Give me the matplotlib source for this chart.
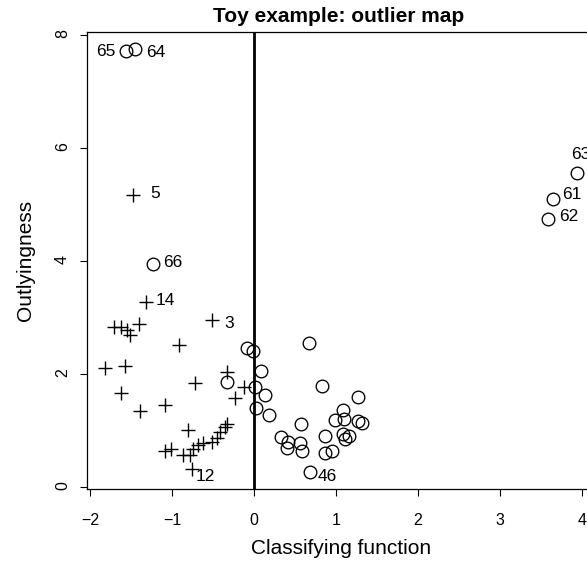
import matplotlib.pyplot as plt

plt.rcParams['font.family'] = ['Liberation Sans', 'DejaVu Sans']

# group 1 (plus signs): classifying function, outlyingness, label
plus_x = [-1.472, -1.317, -0.516, -1.707, -1.622, -1.543, -1.518, -1.402,
          -0.915, -1.817, -1.573, -0.333, -1.622, -0.720, -1.085, -1.390,
          -0.120, -0.230, -0.800, -0.333, -0.354, -1.085, -1.016, -0.862,
          -0.780, -0.740, -0.679, -0.618, -0.516, -0.455, -0.415, -0.760]
plus_y = [5.17, 3.28, 2.96, 2.83, 2.83, 2.78, 2.69, 2.89,
          2.51, 2.10, 2.14, 2.04, 1.67, 1.835, 1.45, 1.35,
          1.775, 1.58, 1.00, 1.12, 1.06, 0.63, 0.67, 0.56,
          0.56, 0.67, 0.74, 0.78, 0.80, 0.87, 0.97, 0.32]
plus_lab = ['5', '14', '3'] + [''] * 28 + ['12']

# group 2 (circles)
circ_x = [-1.565, -1.451, -1.228, 3.935, 3.650, 3.590, 0.683,
          -0.082, -0.009, 0.671, 0.085, 0.826, 0.018, 0.134, 1.272,
          0.030, 0.183, 1.089, 0.988, 1.101, 1.272, 1.317, 0.573,
          0.866, 1.082, 1.159, 1.110, 0.329, 0.418, 0.561, 0.402,
          0.589, 0.866, 0.957, -0.335]
circ_y = [7.72, 7.75, 3.94, 5.55, 5.09, 4.74, 0.27,
          2.455, 2.41, 2.54, 2.05, 1.79, 1.77, 1.63, 1.59,
          1.39, 1.27, 1.36, 1.18, 1.20, 1.16, 1.13, 1.12,
          0.90, 0.94, 0.90, 0.85, 0.89, 0.80, 0.77, 0.69,
          0.64, 0.60, 0.64, 1.85]
circ_lab = ['65', '64', '66', '63', '61', '62', '46'] + [''] * 28

x_ticks = [-2, -1, 0, 1, 2, 3, 4]
y_ticks = [0, 2, 4, 6, 8]

# label offsets in points (where the number sits next to its point)
offs = {'65': (-14, -0.9), '64': (15, -2.2), '5': (15.8, 0.7), '66': (14, 1.4),
        '14': (13.7, 0.7), '3': (12.8, -2.7), '12': (10.1, -5.4), '46': (12.7, -3.1),
        '61': (13.2, 3.6), '62': (14.4, 1.9), '63': (3, 13.7)}

W, H = 587, 562
fig = plt.figure(figsize=(W / 100, H / 100), dpi=100)
ax = fig.add_axes([86.7 / W, 1 - 489 / H, 508.4 / W, 457 / H])
ax.set_xlim(-2.04, 4.16)
ax.set_ylim(-0.035, 8.05)

ax.axvline(0, color='black', lw=2)
ax.plot(plus_x, plus_y, '+', color='black', ms=9.4, mew=1.0, clip_on=False)
ax.plot(circ_x, circ_y, 'o', mfc='none', mec='black', ms=9.1, mew=0.95, clip_on=False)

for xs, ys, labs in [(plus_x, plus_y, plus_lab), (circ_x, circ_y, circ_lab)]:
    for x, y, t in zip(xs, ys, labs):
        if t:
            ax.annotate(t, (x, y), xytext=offs[t], textcoords='offset points',
                        ha='center', va='center', fontsize=12.5, annotation_clip=False)

ax.set_xticks(x_ticks)
ax.set_yticks(y_ticks)
ax.set_xticklabels(['\u2212' + str(-v) if v < 0 else str(v) for v in x_ticks])
ax.tick_params(direction='out', length=5, width=0.8, labelsize=11.5)
ax.tick_params(axis='x', pad=12)
ax.tick_params(axis='y', pad=7, labelrotation=90)
for s in ax.spines.values():
    s.set_linewidth(0.9)

fig.text(339 / W, 1 - 16 / H, 'Toy example: outlier map', ha='center', va='center',
         fontsize=15, fontweight='bold')
fig.text(341 / W, 1 - 549 / H, 'Classifying function', ha='center', va='center', fontsize=15)
fig.text(25 / W, 1 - 260 / H, 'Outlyingness', ha='center', va='center', fontsize=15, rotation=90)

fig.savefig('out.png', dpi=100)
